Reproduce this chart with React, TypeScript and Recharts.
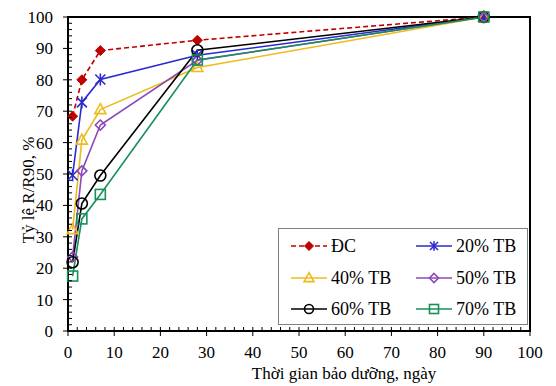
import { Legend, Line, LineChart, ReferenceArea, XAxis, YAxis } from "recharts";

const days = [1, 3, 7, 28, 90];
const dc = [68.4, 80, 89.3, 92.6, 100];
const tb20 = [49.6, 72.8, 80.1, 87.8, 100];
const tb40 = [32.3, 60.8, 70.5, 83.9, 100];
const tb50 = [23.6, 51, 65.6, 86.2, 100];
const tb60 = [21.9, 40.6, 49.5, 89.4, 100];
const tb70 = [17.5, 35.7, 43.5, 86.3, 100];

// every 2 units; labels only on multiples of 10
const ticks = Array.from({ length: 51 }, (_, i) => i * 2);

const data = days.map((d, i) => ({
  day: d,
  dc: dc[i],
  tb20: tb20[i],
  tb40: tb40[i],
  tb50: tb50[i],
  tb60: tb60[i],
  tb70: tb70[i],
}));

type Shape = "diamondFilled" | "star" | "triangle" | "diamond" | "circle" | "square";

const series: { key: string; name: string; color: string; shape: Shape; dash?: string }[] = [
  { key: "dc", name: "ĐC", color: "#c00000", shape: "diamondFilled", dash: "5 3" },
  { key: "tb20", name: "20% TB", color: "#2a2ad0", shape: "star" },
  { key: "tb40", name: "40% TB", color: "#ecbc1c", shape: "triangle" },
  { key: "tb50", name: "50% TB", color: "#8a48bc", shape: "diamond" },
  { key: "tb60", name: "60% TB", color: "#000000", shape: "circle" },
  { key: "tb70", name: "70% TB", color: "#169058", shape: "square" },
];

const font = '"Liberation Serif", "Times New Roman", Tinos, "DejaVu Serif", serif';
const TICK = 5;
const GAP = 10;

// minor ticks point inward, major ticks also stick out
function XTick(props: any) {
  const { x, y, payload } = props;
  const v = payload.value;
  const ay = y - TICK - GAP;
  const major = v % 10 === 0;
  return (
    <g>
      <rect x={x - 0.5} y={ay - 4} width={1} height={major ? 4 + TICK : 4} fill="#000" />
      {major && (
        <text x={x} y={y} dy="0.71em" textAnchor="middle" fill="#000" fontSize={17} style={{ fontFamily: font }}>
          {v}
        </text>
      )}
    </g>
  );
}

function YTick(props: any) {
  const { x, y, payload } = props;
  const v = payload.value;
  const ax = x + TICK + GAP;
  const major = v % 10 === 0;
  return (
    <g>
      <rect x={major ? ax - TICK : ax} y={y - 0.5} width={major ? TICK + 4 : 4} height={1} fill="#000" />
      {major && (
        <text x={x} y={y} dy="0.355em" textAnchor="end" fill="#000" fontSize={17} style={{ fontFamily: font }}>
          {v}
        </text>
      )}
    </g>
  );
}

function Marker({ shape, cx, cy, color, s }: { shape: Shape; cx: number; cy: number; color: string; s: number }) {
  const sw = 1.6;
  switch (shape) {
    case "diamondFilled":
      return (
        <polygon
          points={`${cx},${cy - s} ${cx + s},${cy} ${cx},${cy + s} ${cx - s},${cy}`}
          fill={color}
          stroke={color}
        />
      );
    case "star":
      return (
        <g stroke={color} strokeWidth={sw}>
          <line x1={cx - s} y1={cy - s} x2={cx + s} y2={cy + s} />
          <line x1={cx - s} y1={cy + s} x2={cx + s} y2={cy - s} />
          <line x1={cx} y1={cy - s * 1.2} x2={cx} y2={cy + s * 1.2} />
        </g>
      );
    case "triangle":
      return (
        <polygon
          points={`${cx},${cy - s * 1.2} ${cx + s * 1.1},${cy + s * 0.8} ${cx - s * 1.1},${cy + s * 0.8}`}
          fill="none"
          stroke={color}
          strokeWidth={sw}
        />
      );
    case "diamond":
      return (
        <polygon
          points={`${cx},${cy - s} ${cx + s},${cy} ${cx},${cy + s} ${cx - s},${cy}`}
          fill="none"
          stroke={color}
          strokeWidth={sw}
        />
      );
    case "circle":
      return <circle cx={cx} cy={cy} r={s} fill="none" stroke={color} strokeWidth={sw} />;
    case "square":
      return (
        <rect x={cx - s} y={cy - s} width={s * 2} height={s * 2} fill="none" stroke={color} strokeWidth={sw} />
      );
  }
}

function LegendBox() {
  return (
    <div
      style={{
        position: "relative",
        width: 250,
        height: 97,
        border: "1px solid #808080",
        background: "#fff",
        boxSizing: "border-box",
        fontFamily: font,
        fontSize: 18,
        color: "#000",
      }}
    >
      {series.map((s, i) => {
        const col = i % 2;
        const row = Math.floor(i / 2);
        const left = col === 0 ? 11 : 136;
        const top = 17 + row * 31.5;
        return (
          <div key={s.key} style={{ position: "absolute", left, top: top - 12, height: 24, display: "flex", alignItems: "center" }}>
            <svg width={38} height={16}>
              <line x1={1} y1={8} x2={37} y2={8} stroke={s.color} strokeWidth={1.6} strokeDasharray={s.dash} />
              <Marker shape={s.shape} cx={19} cy={8} color={s.color} s={s.shape === "star" ? 4 : 4.5} />
            </svg>
            <span style={{ marginLeft: 3, lineHeight: "24px", fontFamily: font }}>{s.name}</span>
          </div>
        );
      })}
    </div>
  );
}

export default function App() {
  return (
    <div
      style={{
        position: "absolute",
        left: 0,
        top: 0,
        width: 556,
        height: 386,
        background: "#fff",
        fontFamily: font,
      }}
    >
      <LineChart
        width={556}
        height={386}
        data={data}
        margin={{ top: 17, right: 26, left: 0, bottom: 0 }}
        style={{ fontFamily: font }}
      >
        <XAxis
          dataKey="day"
          type="number"
          domain={[0, 100]}
          ticks={ticks}
          interval={0}
          height={55}
          tickSize={TICK}
          tickMargin={GAP}
          axisLine={{ stroke: "#000", strokeWidth: 2 }}
          tickLine={false}
          tick={(p: any) => <XTick key={`xt-${p.index}`} {...p} />}
          label={{
            content: () => (
              <text x={344} y={379} textAnchor="middle" fill="#000" fontSize={17} style={{ fontFamily: font }}>
                Thời gian bảo dưỡng, ngày
              </text>
            ),
          }}
        />
        <YAxis
          type="number"
          domain={[0, 100]}
          ticks={ticks}
          interval={0}
          width={68}
          tickSize={TICK}
          tickMargin={GAP}
          axisLine={{ stroke: "#000", strokeWidth: 2 }}
          tickLine={false}
          tick={(p: any) => <YTick key={`yt-${p.index}`} {...p} />}
          label={{
            content: () => (
              <text
                x={28}
                y={190}
                transform="rotate(-90, 28, 190)"
                textAnchor="middle"
                dominantBaseline="central"
                fill="#000"
                fontSize={17}
                style={{ fontFamily: font }}
              >
                Tỷ lệ R/R90, %
              </text>
            ),
          }}
        />
        <ReferenceArea x1={0} x2={100} y1={0} y2={100} fill="none" stroke="#000" strokeWidth={2} />
        {series.map((s) => (
          <Line
            key={s.key}
            dataKey={s.key}
            name={s.name}
            type="linear"
            stroke={s.color}
            strokeWidth={1.6}
            strokeDasharray={s.dash}
            isAnimationActive={false}
            dot={(p: any) => (
              <Marker
                key={`${s.key}-${p.index}`}
                shape={s.shape}
                cx={p.cx}
                cy={p.cy}
                color={s.color}
                s={s.shape === "circle" ? 5.5 : 5}
              />
            )}
            activeDot={false}
          />
        ))}
        <Legend
          layout="vertical"
          align="center"
          verticalAlign="middle"
          wrapperStyle={{ position: "absolute", left: 278, top: 228, width: 250, height: 97 }}
          content={() => <LegendBox />}
        />
      </LineChart>
    </div>
  );
}
